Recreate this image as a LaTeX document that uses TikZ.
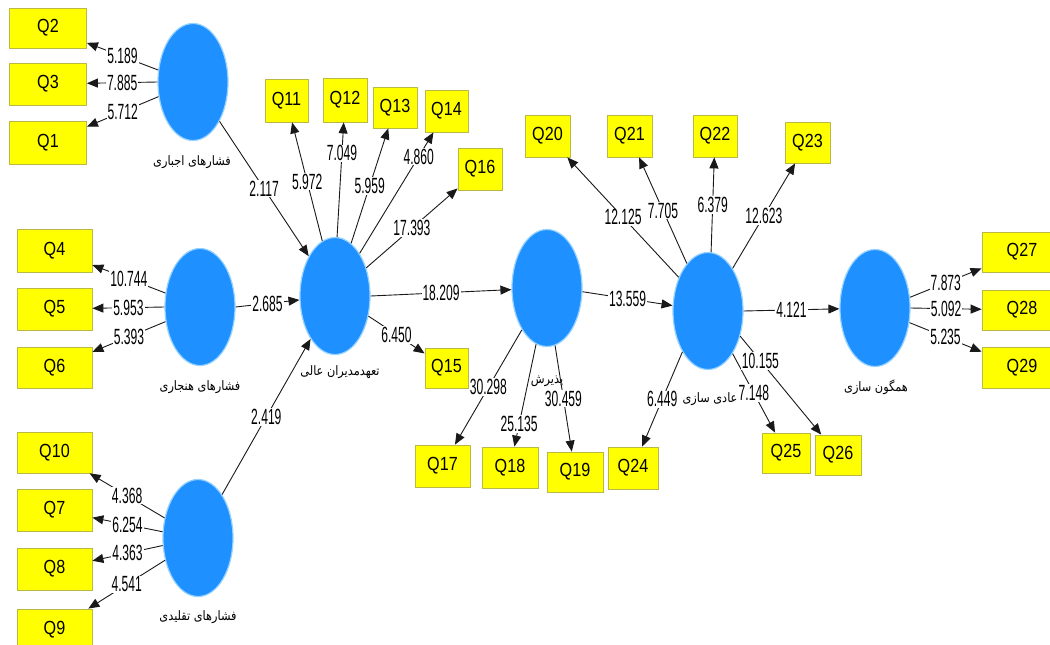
\documentclass[tikz,border=0pt]{standalone}
\usepackage{fontspec}
\usepackage{tikz}
\usetikzlibrary{shapes.geometric, arrows.meta}
\setmainfont{Liberation Sans}
\newfontfamily\persianFont[Script=Arabic, FakeStretch=0.87]{DejaVu Sans}
\newfontfamily\loadingFont[FakeStretch=0.55]{Liberation Sans}
\newfontfamily\itemFont[FakeStretch=0.85]{Liberation Sans}
\TeXXeTstate=1
\tikzstyle{pixels} = [x = 1pt, y = -1pt]
\definecolor{latentColor}{RGB}{30,144,255}
\definecolor{haloColor}{RGB}{150,210,255}
\definecolor{itemColor}{RGB}{255,255,0}
\definecolor{itemBorder}{RGB}{185,185,70}
\tikzstyle{latentStyle} = [ellipse, fill=latentColor, draw=haloColor, line width=1.2pt, minimum width=70pt, minimum height=117pt, inner sep=0pt]
\tikzstyle{latentText} = [font=\persianFont\fontsize{13}{15}\selectfont, inner sep=0pt]
\tikzstyle{itemStyle} = [rectangle, fill=itemColor, draw=itemBorder, line width=0.8pt, font=\itemFont\fontsize{19}{20}\selectfont, inner sep=0pt]
\tikzstyle{pathArrow} = [draw=black!90, line width=0.9pt, -{Triangle[length=11pt, width=9pt]}]
\tikzstyle{loadingText} = [font=\loadingFont\fontsize{22}{23}\selectfont, fill=white, inner sep=1pt, midway]
\newcommand{\latent}[3]{\node [latentStyle] (#1) at (#2, #3) {};}
\newcommand{\latentName}[4]{\node [latentText] (#1) at (#2, #3) {#4};}
\newcommand{\indicatorBox}[5]{\node [itemStyle, minimum width=#4pt, minimum height=#5pt] (#1) at (#2, #3) {#1};}
\newcommand{\loading}[4][]{\draw [pathArrow] (#2) -- node [loadingText, #1] {#4} (#3);}

\begin{document}
\begin{tikzpicture}[pixels]
\useasboundingbox (0,0) rectangle (1050,645);
\clip (0,0) rectangle (1050,645);
\fill [white] (0,0) rectangle (1050,645);
% latent variables
\latent{e1}{193}{82}\latent{e2}{200}{307}\latent{e3}{198}{538}\latent{e4}{335}{296}\latent{e5}{547}{288}\latent{e6}{708}{311}\latent{e7}{875}{308}
\latentName{e1Name}{192}{162}{\beginR فشارهای اجباری\endR}
\latentName{e2Name}{200}{387}{\beginR فشارهای هنجاری\endR}
\latentName{e3Name}{198}{617}{\beginR فشارهای تقلیدی\endR}
\latentName{e4Name}{340}{372}{\beginR تعهدمدیران عالی\endR}
\latentName{e5Name}{547}{381}{\beginR پذیرش\endR}
\latentName{e6Name}{710}{399}{\beginR عادی سازی\endR}
\latentName{e7Name}{876}{387}{\beginR همگون سازی\endR}
% indicators
\indicatorBox{Q2}{48}{28}{77}{40}\indicatorBox{Q3}{48}{84}{77}{42}\indicatorBox{Q1}{48}{143}{77}{43}
\indicatorBox{Q4}{54.5}{250.5}{75}{43}\indicatorBox{Q5}{54.5}{309}{75}{42}\indicatorBox{Q6}{54.5}{367.5}{75}{41}
\indicatorBox{Q10}{54.5}{452.5}{75}{41}\indicatorBox{Q7}{54.5}{510}{75}{42}\indicatorBox{Q8}{54.5}{569}{75}{42}\indicatorBox{Q9}{54.5}{630}{75}{42}
\indicatorBox{Q11}{286.5}{100.5}{43}{43}\indicatorBox{Q12}{345}{100}{44}{44}\indicatorBox{Q13}{395}{107.5}{44}{41}\indicatorBox{Q14}{446.5}{111}{43}{42}\indicatorBox{Q16}{480}{169}{44}{42}\indicatorBox{Q15}{446.5}{368}{43}{40}
\indicatorBox{Q17}{442.5}{466}{55}{42}\indicatorBox{Q18}{510}{467.5}{56}{41}\indicatorBox{Q19}{575}{472}{56}{40}\indicatorBox{Q24}{633}{468}{50}{42}
\indicatorBox{Q20}{547.5}{136}{45}{42}\indicatorBox{Q21}{629.5}{136}{45}{42}\indicatorBox{Q22}{715}{136}{44}{42}\indicatorBox{Q23}{807.5}{142.5}{45}{41}
\indicatorBox{Q25}{786}{453}{48}{40}\indicatorBox{Q26}{838}{455}{46}{40}
\indicatorBox{Q27}{1022}{252}{80}{40}\indicatorBox{Q28}{1022}{310}{80}{40}\indicatorBox{Q29}{1022}{368}{80}{41}
% outer loadings
\loading{e1.161}{Q2}{5.189}\loading{e1.180}{Q3}{7.885}\loading{e1.-157}{Q1}{5.712}
\loading{e2.158}{Q4}{10.744}\loading{e2.180}{Q5}{5.953}\loading{e2.-157}{Q6}{5.393}
\loading{e3.149}{Q10}{4.368}\loading{e3.170}{Q7}{6.254}\loading{e3.-168}{Q8}{4.363}\loading{e3.-146}{Q9}{4.541}
\loading{e4.103}{Q11}{5.972}\loading[pos=0.73]{e4.88}{Q12}{7.049}\loading{e4.73}{Q13}{5.959}\loading[pos=0.8]{e4.60}{Q14}{4.860}\loading{e4.42}{Q16}{17.393}\loading{e4.-31}{Q15}{6.450}
\loading{e5.-121}{Q17}{30.298}\loading[pos=0.78]{e5.-101}{Q18}{25.135}\loading{e5.-82}{Q19}{30.459}
\loading{e6.131}{Q20}{12.125}\loading{e6.114}{Q21}{7.705}\loading{e6.87}{Q22}{6.379}\loading{e6.60}{Q23}{12.623}\loading{e6.-122}{Q24}{6.449}\loading{e6.-60}{Q25}{7.148}\loading[pos=0.25]{e6.-38}{Q26}{10.155}
\loading{e7.17}{Q27}{7.873}\loading{e7.0}{Q28}{5.092}\loading{e7.-23}{Q29}{5.235}
% paths
\loading{e1.-56}{e4}{2.117}\loading{e2.0}{e4}{2.685}\loading{e3.61}{e4}{2.419}
\loading{e4.0}{e5}{18.209}\loading{e5.-6}{e6}{13.559}\loading{e6.0}{e7}{4.121}
\end{tikzpicture}
\end{document}
